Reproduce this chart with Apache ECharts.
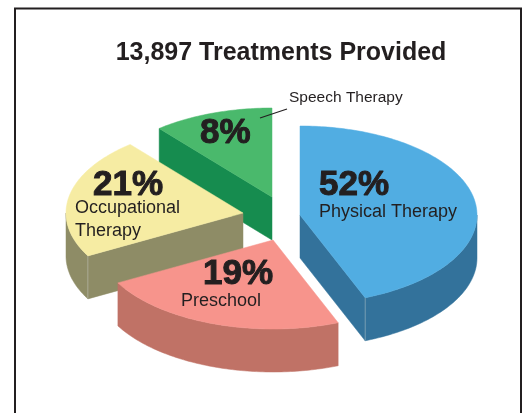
<!DOCTYPE html>
<html>
<head>
<meta charset="utf-8">
<style>
html, body { margin: 0; padding: 0; background: #fff; }
#chart { width: 532px; height: 413px; }
</style>
<script src="https://cdn.jsdelivr.net/npm/echarts@6/dist/echarts.min.js"></script>
</head>
<body>
<div id="chart"></div>
<script>
const titleText = '13,897 Treatments Provided';
// clockwise from 12 o'clock
const categories = ['Physical Therapy', 'Preschool', 'Occupational Therapy', 'Speech Therapy'];
const percents = [52, 19, 21, 8];
// the wedges in the picture are not to scale with the printed percents, so this is what was read off the slices
const drawnShare = [44, 23, 22, 11];

// styles and layout
const topColors = ['#51ade2', '#f7948c', '#f6eca3', '#4ab96c'];
const wallColors = ['#33729b', '#c07266', '#8e8c66', '#168c4f'];
const textColor = '#231f20';
const apexes = [[300, 215], [273, 240], [243, 213], [272, 197]];
const stackOrder = [3, 4, 2, 1]; // green at the back, pink in front
const radiusX = 177;
const radiusY = 89;
const depth = 43;
const percentPos = [[319, 185], [203, 274], [93, 185], [200, 133]];
const namePos = [
  [[319, 212, 'Physical Therapy']],
  [[181, 301, 'Preschool']],
  [[75, 208, 'Occupational'], [75, 231, 'Therapy']],
  []
];

const total = drawnShare.reduce((a, b) => a + b, 0);

function rim(apex, deg) { // point on the ellipse, deg clockwise from top
  const t = deg * Math.PI / 180;
  return [apex[0] + radiusX * Math.sin(t), apex[1] - radiusY * Math.cos(t)];
}

function arcPoints(apex, from, to) {
  const pts = [];
  const steps = Math.max(2, Math.ceil(Math.abs(to - from)));
  for (let i = 0; i <= steps; i++) {
    pts.push(rim(apex, from + (to - from) * i / steps));
  }
  return pts;
}

function down(p) {
  return [p[0], p[1] + depth];
}

function renderSlice(params, api) {
  const i = params.dataIndex;
  const apex = apexes[i];
  let start = 0;
  for (let k = 0; k < i; k++) start += drawnShare[k] / total * 360;
  const end = start + api.value(0) / total * 360;
  const z = stackOrder[i];
  const children = [];
  const wall = (points) => children.push({
    type: 'polygon',
    shape: { points },
    z2: z,
    style: { fill: wallColors[i], stroke: wallColors[i], lineWidth: 0.5 }
  });

  // cut faces that turn towards the viewer
  if (start > 180 && start < 360) {
    const p = rim(apex, start);
    wall([apex, p, down(p), down(apex)]);
  }
  if (end > 0 && end < 180) {
    const p = rim(apex, end);
    wall([apex, p, down(p), down(apex)]);
  }
  // outer wall, front half of the ellipse only
  const a = Math.max(start, 90);
  const b = Math.min(end, 270);
  if (b > a) {
    const arc = arcPoints(apex, a, b);
    wall(arc.concat(arc.map(down).reverse()));
    if (i === 0 || i === 2) { // thin light edge where the faces meet
      const p = rim(apex, i === 0 ? end : start);
      children.push({
        type: 'line',
        shape: { x1: p[0], y1: p[1], x2: p[0], y2: p[1] + depth },
        z2: z,
        style: { stroke: '#c9d2cf', lineWidth: 0.6, opacity: 0.7 }
      });
    }
  }
  // top face
  children.push({
    type: 'polygon',
    shape: { points: [apex].concat(arcPoints(apex, start, end)) },
    z2: z,
    style: { fill: topColors[i], stroke: topColors[i], lineWidth: 0.5 }
  });
  // texts
  children.push({
    type: 'text',
    z2: 20,
    style: {
      text: percents[i] + '%',
      x: percentPos[i][0],
      y: percentPos[i][1],
      verticalAlign: 'middle',
      fill: textColor,
      stroke: textColor,
      lineWidth: 1,
      font: 'bold 35px "Liberation Sans"'
    }
  });
  namePos[i].forEach((n) => children.push({
    type: 'text',
    z2: 20,
    style: {
      text: n[2],
      x: n[0],
      y: n[1],
      verticalAlign: 'middle',
      fill: textColor,
      font: '18px "Liberation Sans"'
    }
  }));
  return { type: 'group', children };
}

const myChart = echarts.init(document.getElementById('chart'), null, { renderer: 'canvas' });
myChart.setOption({
  animation: false,
  backgroundColor: '#fff',
  title: {
    text: titleText,
    left: 276,
    top: 36,
    textAlign: 'center',
    textStyle: { color: textColor, fontSize: 25, fontWeight: 'bold', fontFamily: 'Liberation Sans' }
  },
  graphic: [
    { // frame, runs off the bottom of the page
      type: 'polyline',
      shape: { points: [[15, 413], [15, 8.5], [521, 8.5], [521, 413]] },
      style: { fill: null, stroke: '#231f20', lineWidth: 2 }
    },
    { // leader for the speech therapy wedge
      type: 'line',
      z: 10,
      shape: { x1: 260, y1: 118, x2: 287, y2: 109 },
      style: { stroke: textColor, lineWidth: 1.2 }
    },
    {
      type: 'text',
      z: 10,
      x: 289,
      y: 98,
      style: {
        text: categories[3],
        verticalAlign: 'middle',
        fill: textColor,
        font: '15.5px "Liberation Sans"'
      }
    }
  ],
  series: [
    {
      type: 'custom',
      silent: true,
      coordinateSystem: 'none',
      renderItem: renderSlice,
      data: drawnShare.map((v) => [v])
    }
  ]
});
</script>
</body>
</html>
